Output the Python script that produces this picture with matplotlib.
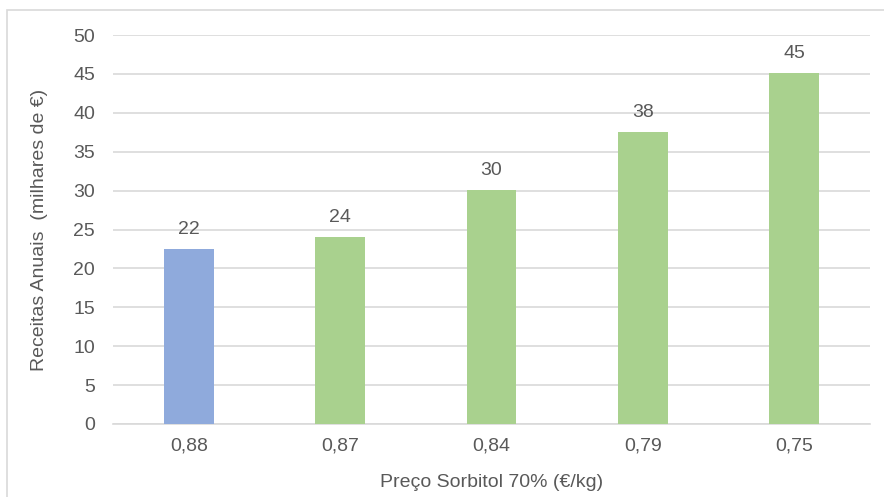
import matplotlib.pyplot as plt
from matplotlib.patches import Rectangle

# receitas anuais por preço do sorbitol
precos = ['0,88', '0,87', '0,84', '0,79', '0,75']
receitas = [22.5, 24.1, 30.1, 37.5, 45.1]
cores = ['#8FAADC', '#A9D18E', '#A9D18E', '#A9D18E', '#A9D18E']

plt.rcParams['font.family'] = ['Liberation Sans', 'DejaVu Sans']
txt = '#595959'
fs = 14

fig = plt.figure(figsize=(8.84, 4.97), dpi=100)
# moldura do gráfico
fig.patches.append(Rectangle((7 / 884, -0.05), 1.2, 1 - 10 / 497 + 0.05,
                             transform=fig.transFigure, fill=False,
                             edgecolor='#D9D9D9', linewidth=1.2))

ax = fig.add_axes([113 / 884, 1 - 424 / 497, (870 - 113) / 884, (424 - 35) / 497])
x = range(len(precos))
barras = ax.bar(x, receitas, width=0.33, color=cores, zorder=3)

for b, v in zip(barras, receitas):
    ax.text(b.get_x() + b.get_width() / 2, v + 1.4, f'{v:.0f}',
            ha='center', va='bottom', fontsize=fs, color=txt)

ax.set_xlim(-0.5, len(precos) - 0.5)
ax.set_ylim(0, 50)
ax.set_yticks(range(0, 51, 5))
ax.set_xticks(list(x))
ax.set_xticklabels(precos)
ax.yaxis.grid(True, color='#D9D9D9', linewidth=1.2, zorder=0)
ax.tick_params(length=0, labelsize=fs, labelcolor=txt)
ax.tick_params(axis='y', pad=13)
ax.tick_params(axis='x', pad=10)
for s in ['top', 'right', 'left']:
    ax.spines[s].set_visible(False)
ax.spines['bottom'].set_color('#D9D9D9')
ax.spines['bottom'].set_linewidth(1.2)

ax.set_xlabel('Preço Sorbitol 70% (€/kg)', fontsize=fs, color=txt, labelpad=14)
ax.set_ylabel('Receitas Anuais  (milhares de €)', fontsize=fs, color=txt, labelpad=18)

fig.savefig('out.png', dpi=100)
